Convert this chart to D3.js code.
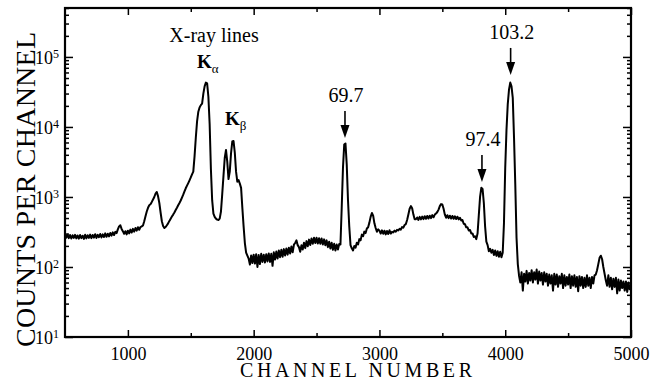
<!DOCTYPE html>
<html><head><meta charset="utf-8">
<script src="https://cdn.jsdelivr.net/npm/d3@7"></script>
<style>
body{margin:0;background:#fff}
svg{display:block}
text{font-family:"Liberation Serif","Times New Roman",serif;fill:#000}
</style>
</head><body>
<svg id="chart" width="651" height="381"></svg>
<script>
// ---- data ----
const channelStart = 500;
const channelStep = 10;
const counts = [
  295,262,290,258,286,255,284,260,288,256,
  282,254,286,258,280,252,288,256,284,260,
  290,258,286,262,294,260,288,266,296,264,
  292,268,302,270,298,274,306,280,312,286,
  318,305,345,380,395,350,325,298,324,292,
  330,302,342,310,350,320,360,330,370,340,
  372,380,392,450,530,620,700,760,790,850,
  920,1000,1120,1180,1020,820,600,450,385,360,
  372,395,420,455,490,525,560,600,650,700,
  760,820,890,980,1080,1200,1330,1450,1580,1730,
  1900,2100,2300,3800,7000,12000,16500,19000,20500,21500,
  30000,38000,43000,42000,27000,11000,2500,900,580,520,
  490,475,470,490,620,1100,2000,3600,4700,3200,
  1800,2300,4200,6200,6300,4300,2300,1650,1750,1550,
  1350,700,380,220,160,145,132,108,146,114,
  150,112,152,100,148,110,154,118,150,116,
  152,120,156,118,154,104,162,128,166,132,
  172,138,176,140,180,146,184,150,188,156,
  196,162,208,220,240,205,192,165,204,178,
  222,186,234,198,246,206,256,214,262,220,
  262,216,258,214,256,210,248,204,240,192,
  230,184,222,176,214,172,210,178,212,210,
  700,2600,5600,5800,2900,900,380,205,185,172,
  200,188,222,210,250,240,290,275,320,305,
  355,370,430,520,590,540,420,360,318,345,
  330,300,334,298,330,292,326,296,334,300,
  318,312,330,320,340,332,352,342,372,365,
  398,410,470,560,680,740,690,560,480,480,
  510,470,520,478,525,482,530,488,535,492,
  540,498,550,512,560,580,610,660,740,790,
  780,680,560,505,548,498,540,492,535,488,
  530,484,522,478,505,462,468,415,408,368,
  368,332,338,302,302,268,275,250,300,550,
  1000,1350,1300,820,380,230,205,168,182,160,
  176,148,172,144,168,140,165,138,160,420,
  2600,9000,21000,34000,43000,38000,26000,7000,1500,260,
  110,75,60,84,46,80,62,88,58,82,
  64,90,60,84,66,92,58,86,64,82,
  56,84,62,80,54,78,58,76,46,80,
  56,78,52,74,58,80,50,76,54,72,
  56,78,50,74,54,76,52,72,45,74,
  54,72,50,70,52,76,54,70,50,72,
  58,76,78,90,110,135,145,130,100,80,
  64,54,76,52,70,48,68,52,70,42,
  66,46,64,50,62,46,62,44,60,48,
  54
];
const channels = counts.map((_, i) => channelStart + i * channelStep);

const xDomain = [500, 5000];
const yDomain = [10, 500000];
const xMajorTicks = [1000, 2000, 3000, 4000, 5000];
const xMinorTicks = [1500, 2500, 3500, 4500];
const yExponents = [1, 2, 3, 4, 5];

const peakLabels = ["69.7", "97.4", "103.2"];
const peakChannels = [2726, 3815, 4043];
const peakTipCounts = [6960, 1640, 55300];

const lineGroupTitle = "X-ray lines";
const kLabels = ["α", "β"];
const kChannels = [1550, 1772];
const kCounts = [69700, 10700];
const xLabel = "CHANNEL  NUMBER";
const yLabel = "COUNTS  PER  CHANNEL";

// ---- layout ----
const FONT = "Liberation Serif, Times New Roman, serif";
const L = 65, R = 631, T = 8, B = 337;
const svg = d3.select("#chart");
const x = d3.scaleLinear().domain(xDomain).range([L, R]);
const y = d3.scaleLog().domain(yDomain).range([B, T]);

const yMinor = [];
yExponents.forEach(e => { for (let k = 2; k <= 9; k++) { const v = k * Math.pow(10, e); if (v <= yDomain[1]) yMinor.push(v); } });
const yMajor = yExponents.map(e => Math.pow(10, e));

function styleAxis(g) {
  g.attr("font-family", FONT);
  g.select(".domain").remove();
  g.selectAll(".tick line").attr("stroke", "#000").attr("stroke-width", 1.5);
}

// bottom axis
svg.append("g").attr("transform", `translate(0,${B})`)
  .call(d3.axisBottom(x).tickValues(xMajorTicks).tickSize(-7).tickSizeOuter(0).tickPadding(10).tickFormat(d3.format("d")))
  .call(styleAxis)
  .call(g => g.selectAll("text").attr("font-family", FONT).attr("fill", "#000").style("font-size", "18px"));
svg.append("g").attr("transform", `translate(0,${B})`)
  .call(d3.axisBottom(x).tickValues(xMinorTicks).tickSize(-4).tickSizeOuter(0).tickFormat(""))
  .call(styleAxis);
// top axis
svg.append("g").attr("transform", `translate(0,${T})`)
  .call(d3.axisTop(x).tickValues(xMajorTicks).tickSize(-7).tickSizeOuter(0).tickFormat(""))
  .call(styleAxis);
svg.append("g").attr("transform", `translate(0,${T})`)
  .call(d3.axisTop(x).tickValues(xMinorTicks).tickSize(-4).tickSizeOuter(0).tickFormat(""))
  .call(styleAxis);

// left axis
const leftMajor = svg.append("g").attr("transform", `translate(${L},0)`)
  .call(d3.axisLeft(y).tickValues(yMajor).tickSize(-8).tickSizeOuter(0).tickPadding(12).tickFormat(() => "10"))
  .call(styleAxis);
leftMajor.selectAll(".tick text")
  .attr("font-family", FONT).attr("fill", "#000").style("font-size", "18px").attr("dy", "0.34em").attr("x", -6)
  .append("tspan").attr("dy", "-0.45em").style("font-size", "12px").text(d => Math.round(Math.log10(d)));
svg.append("g").attr("transform", `translate(${L},0)`)
  .call(d3.axisLeft(y).tickValues(yMinor).tickSize(-4).tickSizeOuter(0).tickFormat(""))
  .call(styleAxis);
// right axis
svg.append("g").attr("transform", `translate(${R},0)`)
  .call(d3.axisRight(y).tickValues(yMajor).tickSize(-8).tickSizeOuter(0).tickFormat(""))
  .call(styleAxis);
svg.append("g").attr("transform", `translate(${R},0)`)
  .call(d3.axisRight(y).tickValues(yMinor).tickSize(-4).tickSizeOuter(0).tickFormat(""))
  .call(styleAxis);

// spectrum
svg.append("clipPath").attr("id", "clip").append("rect").attr("x", L).attr("y", T).attr("width", R - L).attr("height", B - T);
const line = d3.line().x((d, i) => x(channels[i])).y(d => y(d));
svg.append("path").datum(counts)
  .attr("clip-path", "url(#clip)")
  .attr("fill", "none").attr("stroke", "#000").attr("stroke-width", 2).attr("stroke-linejoin", "round")
  .attr("d", line);

// frame
svg.append("rect").attr("x", L).attr("y", T).attr("width", R - L).attr("height", B - T)
  .attr("fill", "none").attr("stroke", "#000").attr("stroke-width", 2.2);

// axis titles
svg.append("text").attr("x", (L + R) / 2 + 8).attr("y", 377).attr("text-anchor", "middle")
  .attr("font-family", FONT).style("font-size", "20px").attr("textLength", 232).text(xLabel);
svg.append("text").attr("transform", `translate(35,${(32 + 347) / 2}) rotate(-90)`).attr("text-anchor", "middle")
  .attr("font-family", FONT).style("font-size", "28px").attr("textLength", 315).text(yLabel);

// peak annotations with arrows
peakLabels.forEach((lab, i) => {
  const px = x(peakChannels[i]);
  const tip = y(peakTipCounts[i]);
  const len = 27;
  svg.append("line").attr("x1", px).attr("x2", px).attr("y1", tip - len).attr("y2", tip - 10)
    .attr("stroke", "#000").attr("stroke-width", 1.6);
  svg.append("path").attr("d", `M${px - 4.5},${tip - 13} L${px + 4.5},${tip - 13} L${px},${tip} Z`).attr("fill", "#000");
  svg.append("text").attr("x", px + 1).attr("y", tip - len - 9).attr("text-anchor", "middle")
    .attr("font-family", FONT).style("font-size", "20px").text(lab);
});

// X-ray lines labels
svg.append("text").attr("x", x(1685)).attr("y", 42).attr("text-anchor", "middle")
  .attr("font-family", FONT).style("font-size", "20px").text(lineGroupTitle);
kLabels.forEach((sub, i) => {
  const t = svg.append("text").attr("x", x(kChannels[i])).attr("y", y(kCounts[i]))
    .attr("font-family", FONT).attr("fill", "#000").style("font-size", "19px").style("font-weight", "bold");
  t.append("tspan").text("K");
  t.append("tspan").attr("dy", 5).style("font-size", "13px").style("font-weight", "normal").text(sub);
});
</script>
</body></html>
